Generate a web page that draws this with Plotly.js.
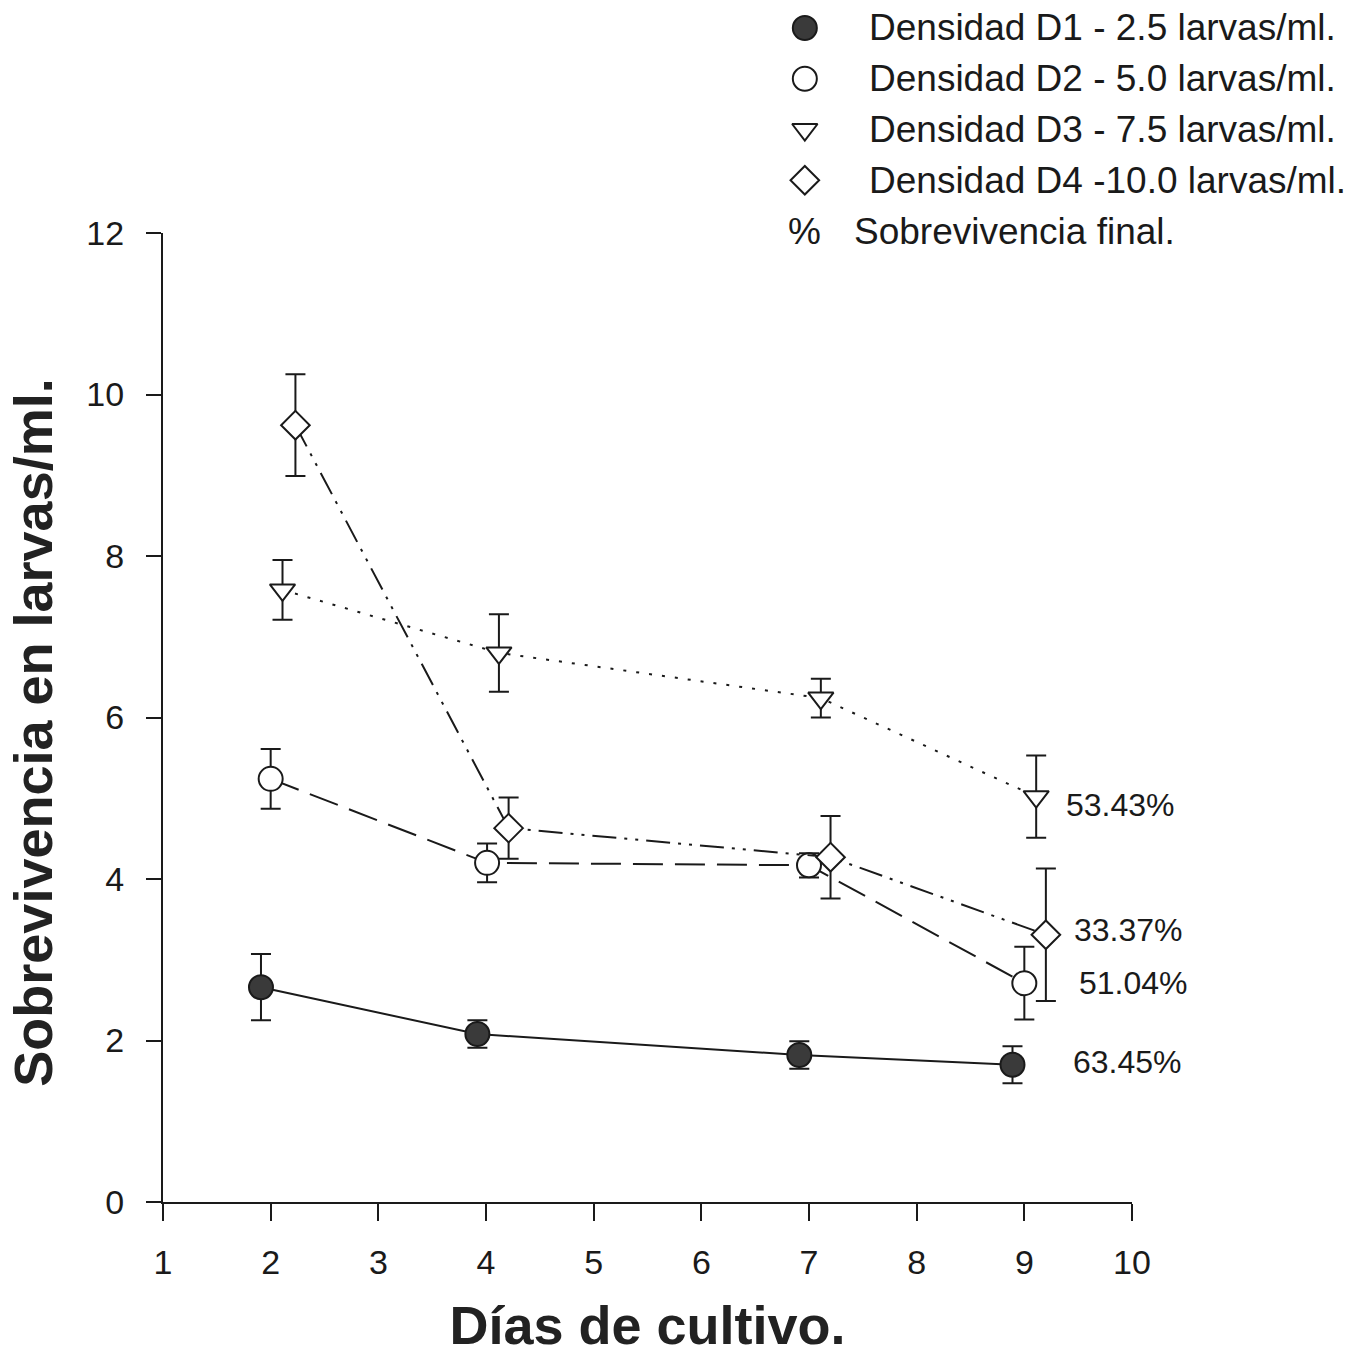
<!DOCTYPE html>
<html>
<head>
<meta charset="utf-8">
<script src="https://cdn.plot.ly/plotly-3.0.1.min.js"></script>
<style>html,body{margin:0;padding:0;background:#fff;}#chart{width:1356px;height:1355px;}</style>
</head>
<body>
<div id="chart"></div>
<script>
// Data
const d1_x = [1.91, 3.92, 6.91, 8.89];
const d1_y = [2.66, 2.08, 1.82, 1.70];
const d1_err = [0.41, 0.17, 0.17, 0.23];

const d2_x = [2.0, 4.01, 7.0, 9.0];
const d2_y = [5.24, 4.20, 4.17, 2.71];
const d2_err = [0.37, 0.24, 0.15, 0.45];

const d3_x = [2.11, 4.12, 7.11, 9.11];
const d3_y = [7.58, 6.80, 6.24, 5.02];
const d3_err = [0.37, 0.48, 0.24, 0.51];

const d4_x = [2.23, 4.21, 7.2, 9.2];
const d4_y = [9.62, 4.63, 4.27, 3.31];
const d4_err = [0.63, 0.38, 0.51, 0.82];

const seriesNames = [
  "Densidad D1 - 2.5 larvas/ml.",
  "Densidad D2 - 5.0 larvas/ml.",
  "Densidad D3 - 7.5 larvas/ml.",
  "Densidad D4 -10.0 larvas/ml."
];
const legendRows = [0, 1, 2, 3];
const percentNote = ["%", "Sobrevivencia final."];

const finalLabels = ["63.45%", "51.04%", "53.43%", "33.37%"];
const finalLabelX = [9.43, 9.49, 9.37, 9.44];
const finalLabelY = [1.73, 2.71, 4.92, 3.37];

const xTicks = [1,2,3,4,5,6,7,8,9,10];
const yTicks = [0,2,4,6,8,10,12];

const FONT = "Liberation Sans, Arial, sans-serif";
const INK = "#1a1a1a";

function errBar(arr){
  return {type:'data', array: arr, visible:true, color:INK, thickness:2, width:10};
}

const styles = [
  {sym:'circle', size:24, fill:'#3a3a3a', dash:'solid'},
  {sym:'circle', size:24, fill:'#ffffff', dash:'30px,12px'},
  {sym:'triangle-down', size:22, fill:'#ffffff', dash:'3px,10px'},
  {sym:'diamond', size:22, fill:'#ffffff', dash:'24px,8px,3px,8px,3px,8px'}
];
const xs = [d1_x, d2_x, d3_x, d4_x];
const ys = [d1_y, d2_y, d3_y, d4_y];
const es = [d1_err, d2_err, d3_err, d4_err];

const traces = [];
for (let i = 0; i < 4; i++) {
  const s = styles[i];
  traces.push({
    type:'scatter', mode:'lines+markers', name: seriesNames[i],
    x: xs[i], y: ys[i],
    error_y: errBar(es[i]),
    line:{color:INK, width:2, dash:s.dash},
    marker:{symbol:s.sym, size:s.size, color:s.fill, opacity:1, line:{color:INK, width:2}},
    showlegend:false, hoverinfo:'skip', cliponaxis:false,
    xaxis:'x', yaxis:'y'
  });
}
// Legend key symbols, drawn on a hidden legend axis
traces.push({
  type:'scatter', mode:'markers',
  x: legendRows.map(() => 0.76), y: legendRows,
  marker:{
    symbol: styles.map(s => s.sym),
    size: styles.map(s => s.size),
    color: styles.map(s => s.fill),
    opacity: 1,
    line:{color:INK, width:2}
  },
  showlegend:false, hoverinfo:'skip', cliponaxis:false,
  xaxis:'x2', yaxis:'y2'
});

const annotations = [];
for (let i = 0; i < 4; i++) {
  annotations.push({
    x: finalLabelX[i], y: finalLabelY[i], xref:'x', yref:'y',
    text: finalLabels[i], showarrow:false, xanchor:'left', yanchor:'middle',
    font:{family:FONT, size:32, color:INK}
  });
}
for (let i = 0; i < 4; i++) {
  annotations.push({
    x: 1.8, y: legendRows[i], xref:'x2', yref:'y2',
    text: seriesNames[i], showarrow:false, xanchor:'left', yanchor:'middle',
    font:{family:FONT, size:37, color:INK}
  });
}
annotations.push({
  x: 0.76, y: 4, xref:'x2', yref:'y2',
  text: percentNote[0], showarrow:false, xanchor:'center', yanchor:'middle',
  font:{family:FONT, size:37, color:INK}
});
annotations.push({
  x: 1.55, y: 4, xref:'x2', yref:'y2',
  text: percentNote[1], showarrow:false, xanchor:'left', yanchor:'middle',
  font:{family:FONT, size:37, color:INK}
});

const layout = {
  width:1356, height:1355,
  paper_bgcolor:'#ffffff', plot_bgcolor:'#ffffff',
  margin:{l:163, r:0, t:0, b:153},
  font:{family:FONT, color:INK},
  showlegend:false,
  xaxis:{
    domain:[0, 969/1193],
    range:[1,10], tickvals:xTicks, ticktext:xTicks.map(String),
    showgrid:false, zeroline:false, showline:true, linecolor:INK, linewidth:2,
    ticks:'outside', ticklen:17, tickwidth:2, tickcolor:INK,
    tickfont:{family:FONT, size:34, color:INK},
    ticklabelstandoff:12,
    title:{text:'Días de cultivo.', font:{family:FONT, size:54, color:'#222', weight:'bold'}, standoff:30},
    automargin:false, anchor:'y'
  },
  yaxis:{
    domain:[0, 969/1202],
    range:[0,12], tickvals:yTicks, ticktext:yTicks.map(String),
    showgrid:false, zeroline:false, showline:true, linecolor:INK, linewidth:2,
    ticks:'outside', ticklen:15, tickwidth:2, tickcolor:INK,
    tickfont:{family:FONT, size:34, color:INK},
    ticklabelstandoff:15,
    title:{text:'Sobrevivencia en larvas/ml.&nbsp;&nbsp;', font:{family:FONT, size:54, color:'#222', weight:'bold'}, standoff:16},
    automargin:false, anchor:'x'
  },
  xaxis2:{domain:[0.5, 1], range:[0,10], visible:false, anchor:'y2', fixedrange:true},
  yaxis2:{domain:[(1202-256.4)/1202, (1202-2.6)/1202], range:[4.5,-0.5], visible:false, anchor:'x2', fixedrange:true},
  annotations: annotations
};

Plotly.newPlot('chart', traces, layout, {staticPlot:true, displayModeBar:false});
</script>
</body>
</html>
